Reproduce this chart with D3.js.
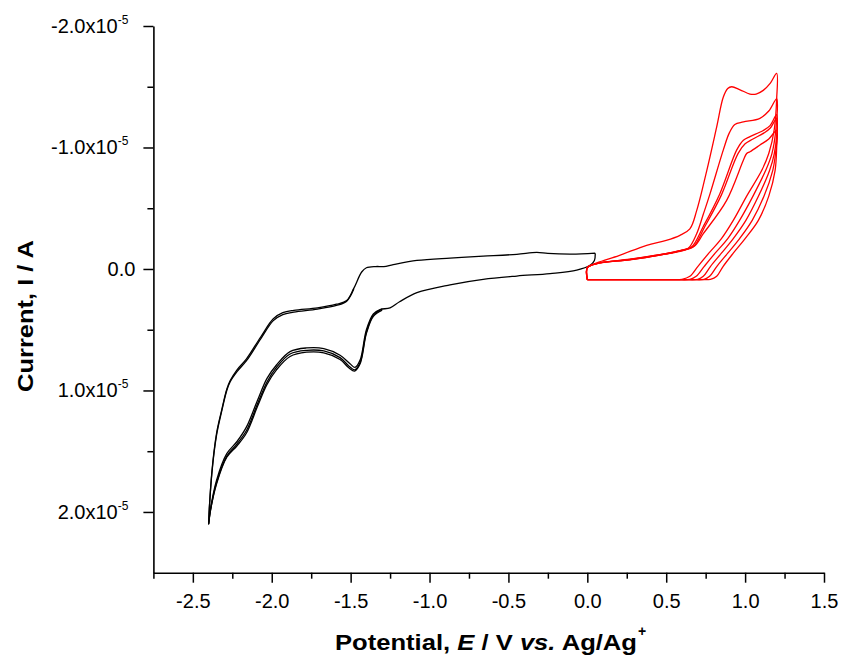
<!DOCTYPE html>
<html>
<head>
<meta charset="utf-8">
<script src="https://cdn.jsdelivr.net/npm/d3@7"></script>
<style>
  html, body { margin: 0; padding: 0; background: #fff; }
  svg text { font-family: Arial, "Liberation Sans", sans-serif; }
</style>
</head>
<body>
<div id="chart-container"></div>
<script>
// Potential (V) and current (units of 1e-5 A, cathodic positive)

// black: negative sweep, 3 cycles nearly on top of each other
const blackCycle1 = [
  [0.05, -0.13], [0.045, -0.07], [0.017, -0.03], [-0.067, 0.01], [-0.236, 0.038],
  [-0.447, 0.058], [-0.66, 0.085], [-0.87, 0.13], [-1.08, 0.195], [-1.19, 0.27],
  [-1.25, 0.32], [-1.314, 0.334], [-1.356, 0.37], [-1.40, 0.50], [-1.44, 0.75],
  [-1.472, 0.81], [-1.504, 0.78], [-1.567, 0.71], [-1.67, 0.655], [-1.78, 0.65],
  [-1.884, 0.68], [-1.97, 0.79], [-2.03, 0.90], [-2.09, 1.08], [-2.16, 1.30],
  [-2.22, 1.42], [-2.285, 1.52], [-2.35, 1.74], [-2.39, 1.99], [-2.40, 2.10],
  [-2.38, 1.68], [-2.35, 1.355], [-2.317, 1.16], [-2.285, 0.99], [-2.264, 0.92],
  [-2.22, 0.83], [-2.16, 0.74], [-2.07, 0.56], [-1.99, 0.41], [-1.93, 0.36],
  [-1.86, 0.34], [-1.71, 0.32], [-1.59, 0.29], [-1.525, 0.26], [-1.48, 0.16],
  [-1.43, 0.025], [-1.40, -0.01], [-1.34, -0.02], [-1.29, -0.02], [-1.23, -0.036],
  [-1.08, -0.07], [-0.87, -0.09], [-0.66, -0.105], [-0.447, -0.121], [-0.32, -0.137],
  [-0.25, -0.128], [-0.10, -0.122], [0.05, -0.13]
];
const blackCycle2 = [
  [-1.30, 0.33], [-1.356, 0.38], [-1.40, 0.52], [-1.44, 0.77], [-1.474, 0.83],
  [-1.51, 0.80], [-1.567, 0.73], [-1.67, 0.675], [-1.78, 0.67], [-1.884, 0.70],
  [-1.97, 0.81], [-2.03, 0.93], [-2.09, 1.11], [-2.16, 1.33], [-2.22, 1.44],
  [-2.285, 1.54], [-2.35, 1.76], [-2.39, 2.0], [-2.40, 2.10],
  [-2.38, 1.69], [-2.35, 1.37], [-2.317, 1.17], [-2.285, 1.0], [-2.264, 0.93],
  [-2.22, 0.845], [-2.16, 0.755], [-2.07, 0.575], [-1.99, 0.425], [-1.93, 0.375],
  [-1.86, 0.355], [-1.71, 0.33], [-1.59, 0.30], [-1.525, 0.265], [-1.48, 0.165]
];
const blackCycle3 = [
  [-1.30, 0.34], [-1.356, 0.39], [-1.40, 0.53], [-1.44, 0.78], [-1.475, 0.84],
  [-1.51, 0.815], [-1.567, 0.745], [-1.67, 0.69], [-1.78, 0.685], [-1.884, 0.72],
  [-1.97, 0.83], [-2.03, 0.95], [-2.09, 1.13], [-2.16, 1.35], [-2.22, 1.455],
  [-2.285, 1.55], [-2.35, 1.77], [-2.39, 2.0], [-2.40, 2.10]
];

// red: positive sweep, 5 cycles (forward + reverse)
const redCycleA = [
  [0, 0.087], [0, -0.01], [0.06, -0.05], [0.2, -0.11], [0.376, -0.195], [0.5, -0.235],
  [0.587, -0.277], [0.65, -0.33], [0.693, -0.48], [0.757, -0.81], [0.82, -1.17],
  [0.862, -1.415], [0.89, -1.485], [0.915, -1.50], [0.968, -1.475], [1.031, -1.44],
  [1.07, -1.44], [1.115, -1.47], [1.16, -1.53], [1.20, -1.61],
  [1.2, -1.40], [1.185, -1.15], [1.15, -0.95], [1.105, -0.81], [1.01, -0.60],
  [0.925, -0.40], [0.85, -0.25], [0.77, -0.13], [0.70, -0.02], [0.65, 0.06],
  [0.60, 0.085], [0.5, 0.087], [0, 0.087]
];
const redCycleB = [
  [0, 0.087], [0, -0.01], [0.06, -0.045], [0.27, -0.08], [0.45, -0.115], [0.587, -0.145],
  [0.64, -0.17], [0.693, -0.29], [0.735, -0.45], [0.778, -0.62], [0.862, -0.98],
  [0.9, -1.12], [0.935, -1.19], [0.989, -1.21], [1.094, -1.24], [1.15, -1.30], [1.20, -1.40],
  [1.195, -1.15], [1.17, -0.95], [1.13, -0.81], [1.05, -0.60], [0.965, -0.40],
  [0.89, -0.25], [0.81, -0.13], [0.74, -0.02], [0.69, 0.06], [0.65, 0.085],
  [0.55, 0.087], [0, 0.087]
];
const redCycleC = [
  [0, 0.087], [0, -0.01], [0.06, -0.045], [0.27, -0.078], [0.45, -0.115], [0.587, -0.15],
  [0.66, -0.18], [0.735, -0.35], [0.84, -0.62], [0.947, -0.98], [0.989, -1.06],
  [1.031, -1.09], [1.115, -1.14], [1.158, -1.18], [1.20, -1.27],
  [1.2, -1.10], [1.185, -0.95], [1.155, -0.81], [1.085, -0.60], [1.005, -0.40],
  [0.925, -0.25], [0.85, -0.13], [0.78, -0.02], [0.735, 0.06], [0.70, 0.085],
  [0.6, 0.087], [0, 0.087]
];
const redCycleD = [
  [0, 0.087], [0, -0.01], [0.06, -0.045], [0.27, -0.077], [0.45, -0.113], [0.587, -0.15],
  [0.67, -0.18], [0.745, -0.35], [0.85, -0.61], [0.955, -0.95], [1.0, -1.03],
  [1.05, -1.07], [1.12, -1.12], [1.16, -1.16], [1.20, -1.24],
  [1.2, -1.05], [1.19, -0.92], [1.175, -0.81], [1.12, -0.60], [1.045, -0.40],
  [0.965, -0.25], [0.89, -0.13], [0.82, -0.02], [0.775, 0.06], [0.74, 0.085],
  [0.65, 0.087], [0, 0.087]
];
const redCycleE = [
  [0, 0.087], [0, -0.01], [0.06, -0.045], [0.27, -0.076], [0.45, -0.112], [0.587, -0.15],
  [0.68, -0.19], [0.735, -0.29], [0.883, -0.565], [0.989, -0.895], [1.01, -0.95],
  [1.031, -0.965], [1.094, -1.02], [1.15, -1.07], [1.20, -1.14],
  [1.2, -1.0], [1.19, -0.81], [1.15, -0.60], [1.084, -0.40], [1.0, -0.25],
  [0.925, -0.13], [0.86, -0.02], [0.82, 0.06], [0.78, 0.085], [0.7, 0.087], [0, 0.087]
];

const xMajorTicks = [-2.5, -2.0, -1.5, -1.0, -0.5, 0.0, 0.5, 1.0, 1.5];
const xMinorTicks = [-2.75, -2.25, -1.75, -1.25, -0.75, -0.25, 0.25, 0.75, 1.25];
const yMajorTicks = [-2, -1, 0, 1, 2];
const yMinorTicks = [-1.5, -0.5, 0.5, 1.5];

const width = 841, height = 657;

const svg = d3.select("#chart-container")
  .append("svg")
  .attr("width", width)
  .attr("height", height);

const x = d3.scaleLinear().domain([-2.75, 1.5]).range([153.4, 824]);
const y = d3.scaleLinear().domain([-2, 2.5]).range([26, 572.7]);

// axes (left + bottom only, ticks outside)
const xAxis = svg.append("g")
  .attr("transform", `translate(0,${y(2.5)})`)
  .call(d3.axisBottom(x).tickValues(xMajorTicks).tickSize(10).tickSizeOuter(0)
    .tickFormat(d3.format(".1f")));
xAxis.select(".domain").attr("stroke-width", 1.6);
xAxis.selectAll(".tick line").attr("stroke-width", 1.5);
xAxis.selectAll(".tick text")
  .attr("y", 21)
  .attr("dy", "0.71em")
  .attr("font-size", 20)
  .attr("fill", "#000")
  .text((d) => d3.format(".1f")(d).replace("−", "-"));

svg.append("g")
  .attr("transform", `translate(0,${y(2.5)})`)
  .call(d3.axisBottom(x).tickValues(xMinorTicks).tickSize(6).tickFormat(""))
  .call((g) => g.select(".domain").remove())
  .selectAll("line").attr("stroke-width", 1.5);

const yAxis = svg.append("g")
  .attr("transform", `translate(${x(-2.75)},0)`)
  .call(d3.axisLeft(y).tickValues(yMajorTicks).tickSize(10).tickSizeOuter(0).tickFormat(""));
yAxis.select(".domain").attr("stroke-width", 1.6);
yAxis.selectAll(".tick line").attr("stroke-width", 1.5);

svg.append("g")
  .attr("transform", `translate(${x(-2.75)},0)`)
  .call(d3.axisLeft(y).tickValues(yMinorTicks).tickSize(6).tickFormat(""))
  .call((g) => g.select(".domain").remove())
  .selectAll("line").attr("stroke-width", 1.5);

// y tick labels like "-1.0x10^-5"
yMajorTicks.forEach((v) => {
  const t = svg.append("text")
    .attr("y", y(v) + 7)
    .attr("text-anchor", "end")
    .attr("font-size", 20)
    .attr("fill", "#000");
  if (v === 0) {
    t.attr("x", x(-2.75) - 18).text("0.0");
  } else {
    t.attr("x", x(-2.75) - 25);
    t.append("tspan").text(v.toFixed(1) + "x10");
    t.append("tspan").attr("dy", -9).attr("font-size", 12).text("-5");
  }
});

// curves
const line = d3.line()
  .x((d) => x(d[0]))
  .y((d) => y(d[1]))
  .curve(d3.curveCatmullRom.alpha(0.5));

[blackCycle3, blackCycle2, blackCycle1].forEach((c) => {
  svg.append("path")
    .attr("d", line(c))
    .attr("fill", "none")
    .attr("stroke", "#000")
    .attr("stroke-width", 1.3);
});

[redCycleE, redCycleD, redCycleC, redCycleB, redCycleA].forEach((c) => {
  svg.append("path")
    .attr("d", line(c))
    .attr("fill", "none")
    .attr("stroke", "#ff0000")
    .attr("stroke-width", 1.3);
});

// axis titles
const xTitle = svg.append("text")
  .attr("x", 335)
  .attr("y", 650)
  .attr("font-size", 22)
  .attr("font-weight", "bold")
  .attr("textLength", 302)
  .attr("lengthAdjust", "spacingAndGlyphs");
xTitle.append("tspan").text("Potential, ");
xTitle.append("tspan").attr("font-style", "italic").text("E");
xTitle.append("tspan").text(" / V ");
xTitle.append("tspan").attr("font-style", "italic").text("vs.");
xTitle.append("tspan").text(" Ag/Ag");
svg.append("text")
  .attr("x", 638)
  .attr("y", 636)
  .attr("font-size", 14)
  .attr("font-weight", "bold")
  .text("+");

svg.append("text")
  .attr("transform", "translate(33,316) rotate(-90)")
  .attr("text-anchor", "middle")
  .attr("font-size", 22)
  .attr("font-weight", "bold")
  .attr("textLength", 152)
  .attr("lengthAdjust", "spacingAndGlyphs")
  .text("Current, I / A");
</script>
</body>
</html>
